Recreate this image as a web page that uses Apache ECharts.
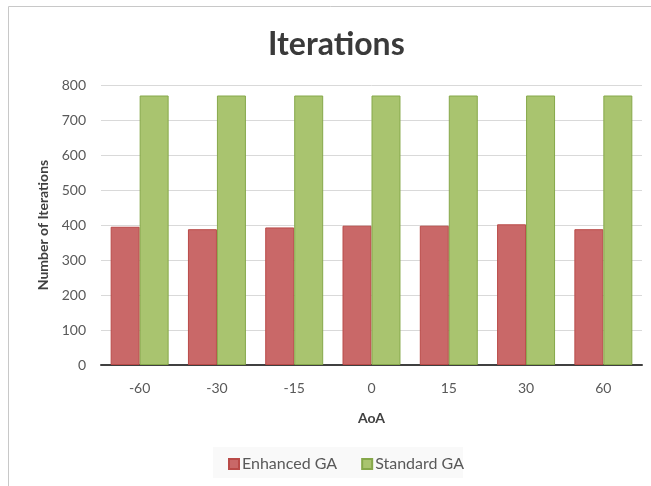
<!DOCTYPE html>
<html>
<head>
<meta charset="utf-8">
<script src="https://cdn.jsdelivr.net/npm/echarts@6/dist/echarts.min.js"></script>
<style>
html,body{margin:0;padding:0;background:#fff;}
#c{width:651px;height:486px;}
</style>
</head>
<body>
<div id="c"></div>
<script>
var categories = ['-60', '-30', '-15', '0', '15', '30', '60'];
var enhancedGA = [395, 388, 393, 398, 398, 402, 388];
var standardGA = [770, 770, 770, 770, 770, 770, 770];
var seriesNames = ['Enhanced GA', 'Standard GA'];

var font = 'Lato, "Open Sans", sans-serif';
var chart = echarts.init(document.getElementById('c'), null, {renderer: 'canvas'});
chart.setOption({
  animation: false,
  backgroundColor: '#ffffff',
  title: {
    text: 'Iterations',
    left: 268,
    top: 29,
    padding: 0,
    textStyle: {fontFamily: font, fontSize: 32, fontWeight: 'bold', color: '#3a3a3a'}
  },
  graphic: [
    {type: 'rect', z: -10, shape: {x: 8.5, y: 6.5, width: 700, height: 600},
     style: {fill: 'none', stroke: '#c8c8c8', lineWidth: 1}},
    {type: 'rect', z: -5, shape: {x: 213, y: 447, width: 250, height: 31},
     style: {fill: '#f9f9f9', stroke: 'none'}}
  ],
  legend: {
    data: seriesNames,
    left: 228,
    top: 456,
    padding: 0,
    itemWidth: 10,
    itemHeight: 10,
    itemGap: 24,
    icon: 'rect',
    textStyle: {fontFamily: font, fontSize: 16, color: '#595959', padding: [0, 0, 0, -2]}
  },
  grid: {left: 101, right: 9, top: 85, bottom: 121, containLabel: false},
  xAxis: {
    type: 'category',
    data: categories,
    name: 'AoA',
    nameLocation: 'middle',
    nameGap: 46,
    nameTextStyle: {fontFamily: font, fontSize: 14, fontWeight: 'bold', color: '#404040'},
    axisLine: {lineStyle: {color: '#404040', width: 2}},
    axisTick: {show: false},
    axisLabel: {fontFamily: font, fontSize: 14, color: '#595959', margin: 16}
  },
  yAxis: {
    type: 'value',
    min: 0,
    max: 800,
    interval: 100,
    name: 'Number of Iterations',
    nameLocation: 'middle',
    nameGap: 51,
    nameTextStyle: {fontFamily: font, fontSize: 14, fontWeight: 'bold', color: '#404040'},
    axisLine: {show: false},
    axisTick: {show: false},
    axisLabel: {fontFamily: font, fontSize: 14, color: '#595959', margin: 15},
    splitLine: {lineStyle: {color: '#d9d9d9', width: 1}}
  },
  series: [
    {
      name: seriesNames[0],
      type: 'bar',
      data: enhancedGA,
      barGap: '0%',
      barCategoryGap: '25%',
      itemStyle: {color: '#c96868', borderColor: '#b94a48', borderWidth: 1}
    },
    {
      name: seriesNames[1],
      type: 'bar',
      data: standardGA,
      itemStyle: {color: '#a9c46f', borderColor: '#86a84a', borderWidth: 1}
    }
  ]
});
</script>
</body>
</html>
